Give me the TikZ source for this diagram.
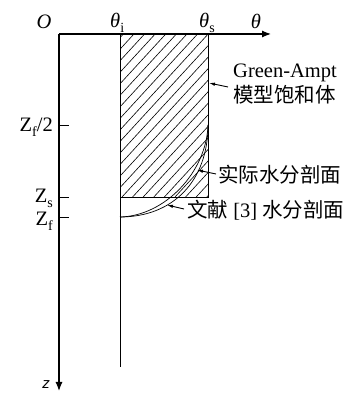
\documentclass[tikz,border=0pt]{standalone}
\usepackage{fontspec}
\setmainfont{Liberation Serif}
\newfontfamily\cjk{Noto Sans CJK SC}
\newfontfamily\zfont{Liberation Sans}
\usetikzlibrary{arrows.meta}
\newcommand\lsub[1]{\raisebox{-0.45ex}{\fontsize{14}{14}\selectfont #1}}
\begin{document}
\begin{tikzpicture}[x=1pt,y=1pt,
  lbl/.style={inner sep=0pt,font=\fontsize{20.5}{25}\selectfont},
  axis/.style={line width=1.2pt,-{Latex[length=9pt,width=7pt]}},
  pointer/.style={line width=0.9pt,-{Latex[length=6pt,width=3.5pt]}},
  thin line/.style={line width=0.9pt},
  hatch/.style={line width=0.6pt}]
\useasboundingbox (0,0) rectangle (351,394);
% coordinates
\coordinate (O) at (59,360);
\coordinate (thEnd) at (271,360);
\coordinate (zEnd) at (59,3);
\coordinate (iTop) at (120,360);
\coordinate (iBot) at (120,27);
\coordinate (rBL) at (120,197);
\coordinate (rTR) at (208,360);
\coordinate (cBot) at (120,177);
\coordinate (cTop) at (208,269);
% hatching
\begin{scope}
\clip (rBL) rectangle (rTR);
\foreach \i in {-20,...,12}
  \draw[hatch] (122+\i*10.6,197) -- ++(170,185);
\end{scope}
\draw[thin line] (rBL) rectangle (rTR);
\draw[thin line] (iTop) -- (iBot);
% axes
\draw[axis] (O) -- (thEnd);
\draw[axis] (O) -- (zEnd);
% ticks
\coordinate (t1) at (59,269); \coordinate (t1e) at (69,269);
\coordinate (t2) at (59,197); \coordinate (t2e) at (69,197);
\coordinate (t3) at (59,177); \coordinate (t3e) at (69,177);
\draw[thin line] (t1) -- (t1e);
\draw[thin line] (t2) -- (t2e);
\draw[thin line] (t3) -- (t3e);
% curves
\draw[line width=0.7pt] (cBot) .. controls (173,177) and (208,213) .. (cTop);
\draw[line width=0.7pt] (cBot) .. controls (165,178) and (206.5,222) .. (cTop);
% labels
\node[lbl,font=\fontsize{20.5}{25}\selectfont\itshape] (lO) at (44,372) {O};
\node[lbl,anchor=base west] (lti) at (110,366) {\textit{θ}\lsub{i}};
\node[lbl,anchor=base west] (lts) at (199,366) {\textit{θ}\lsub{s}};
\node[lbl,font=\fontsize{20.5}{25}\selectfont\itshape] (lt) at (256,373) {θ};
\node[lbl,anchor=base east] (lzf2) at (53,262) {Z\lsub{f}/2};
\node[lbl,anchor=base east] (lzs) at (53,191) {Z\lsub{s}};
\node[lbl,anchor=base east] (lzf) at (53,168) {Z\lsub{f}};
\node[lbl,font=\fontsize{15}{15}\selectfont\zfont\itshape] (lz) at (46,9) {z};
\node[lbl,anchor=north west,align=left] (lga) at (233,330) {Green-Ampt\\{\cjk 模型饱和体}};
\node[lbl,anchor=west] (lsj) at (218,219) {\cjk 实际水分剖面};
\node[lbl,anchor=west] (lwx) at (187,184) {{\cjk 文献} [3] {\cjk 水分剖面}};
% pointers
\coordinate (p1s) at (228,307); \coordinate (p1e) at (209,311);
\coordinate (p2s) at (216,220); \coordinate (p2e) at (197,224);
\coordinate (p3s) at (184,185); \coordinate (p3e) at (167,189);
\draw[pointer] (p1s) -- (p1e);
\draw[pointer] (p2s) -- (p2e);
\draw[pointer] (p3s) -- (p3e);
\end{tikzpicture}
\end{document}
